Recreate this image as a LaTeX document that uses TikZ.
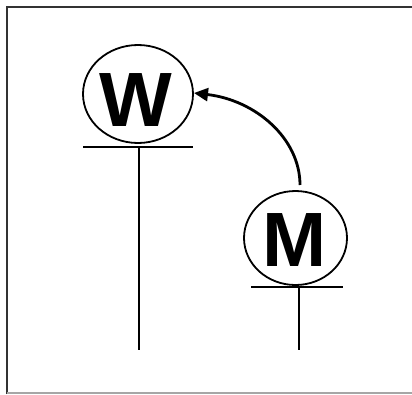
\documentclass[tikz,border=0pt]{standalone}
\usepackage{fontspec}
\setmainfont{Liberation Sans}
\usetikzlibrary{arrows.meta}
\begin{document}
\begin{tikzpicture}[x=1pt,y=-1pt,
  ring/.style={line width=1.8pt},
  glyph/.style={font=\fontsize{77}{77}\selectfont\bfseries,inner sep=0pt},
  wire/.style={line width=2.4pt},
  link/.style={line width=2.8pt,-{Triangle[length=14pt,width=13pt]}}]
\useasboundingbox (0,0) rectangle (412,394);
% outer frame (left and top edges dark, bottom edge light)
\draw[line width=2.4pt,black!80] (7,394) -- (7,7) -- (412,7);
\draw[line width=1.6pt,black!35] (7,393) -- (412,393);
% W symbol
\node[glyph] (w) at (135.5,100) {W};
\draw[ring] (138,94) ellipse [x radius=55, y radius=49];
\coordinate (wr) at (194,93);
\coordinate (wl) at (83,147);
\coordinate (wrr) at (193,147);
\coordinate (wb) at (139,147);
\coordinate (wbot) at (139,350);
\draw[wire] (wl) -- (wrr);
\draw[wire] (wb) -- (wbot);
% M symbol
\node[glyph] (m) at (295,240) {M};
\draw[ring] (295.5,238) ellipse [x radius=51.5, y radius=47];
\coordinate (mt) at (300,185);
\coordinate (ml) at (251,287);
\coordinate (mr) at (343,287);
\coordinate (mb) at (299,287);
\coordinate (mbot) at (299,350);
\draw[wire] (ml) -- (mr);
\draw[wire] (mb) -- (mbot);
% connector from M to W
\draw[link] (mt) .. controls (300,138) and (255,100) .. (wr);
\end{tikzpicture}
\end{document}
